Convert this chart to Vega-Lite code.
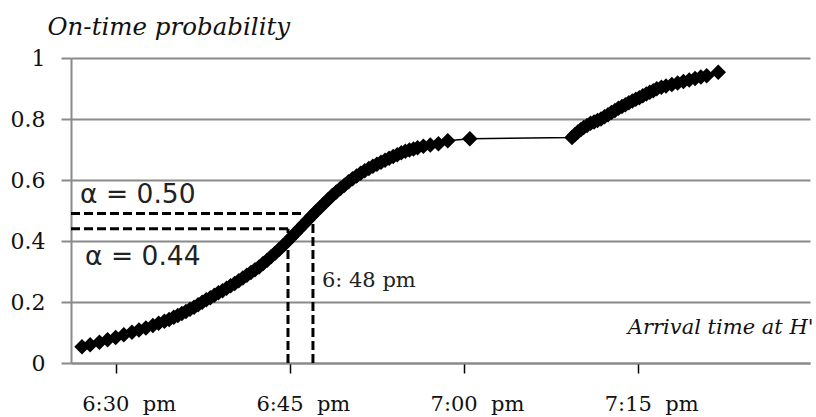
{
  "$schema": "https://vega.github.io/schema/vega-lite/v6.json",
  "width": 739,
  "height": 305,
  "autosize": {"type": "none"},
  "padding": {"left": 71, "top": 58, "right": 6, "bottom": 54},
  "background": "white",
  "config": {"view": {"stroke": null}},
  "datasets": {
    "curve": [
      {"minutes": 27.1, "prob": 0.053}, {"minutes": 27.8, "prob": 0.060}, {"minutes": 28.6, "prob": 0.068},
      {"minutes": 29.3, "prob": 0.076}, {"minutes": 30.0, "prob": 0.084}, {"minutes": 30.7, "prob": 0.093},
      {"minutes": 31.4, "prob": 0.101}, {"minutes": 32.0, "prob": 0.108}, {"minutes": 32.6, "prob": 0.115},
      {"minutes": 33.2, "prob": 0.123}, {"minutes": 33.7, "prob": 0.130}, {"minutes": 34.2, "prob": 0.137},
      {"minutes": 34.6, "prob": 0.143}, {"minutes": 35.0, "prob": 0.150}, {"minutes": 35.35, "prob": 0.156},
      {"minutes": 35.7, "prob": 0.162}, {"minutes": 36.05, "prob": 0.169}, {"minutes": 36.4, "prob": 0.176},
      {"minutes": 36.75, "prob": 0.183}, {"minutes": 37.1, "prob": 0.191}, {"minutes": 37.45, "prob": 0.199},
      {"minutes": 37.8, "prob": 0.207}, {"minutes": 38.15, "prob": 0.214}, {"minutes": 38.5, "prob": 0.222},
      {"minutes": 38.85, "prob": 0.230}, {"minutes": 39.2, "prob": 0.237}, {"minutes": 39.55, "prob": 0.245},
      {"minutes": 39.9, "prob": 0.253}, {"minutes": 40.25, "prob": 0.261}, {"minutes": 40.6, "prob": 0.270},
      {"minutes": 40.95, "prob": 0.279}, {"minutes": 41.3, "prob": 0.288}, {"minutes": 41.65, "prob": 0.297},
      {"minutes": 42.0, "prob": 0.306}, {"minutes": 42.35, "prob": 0.315}, {"minutes": 42.7, "prob": 0.326},
      {"minutes": 43.05, "prob": 0.337}, {"minutes": 43.4, "prob": 0.349}, {"minutes": 43.75, "prob": 0.361},
      {"minutes": 44.1, "prob": 0.373}, {"minutes": 44.45, "prob": 0.386}, {"minutes": 44.8, "prob": 0.399},
      {"minutes": 45.15, "prob": 0.413}, {"minutes": 45.5, "prob": 0.427}, {"minutes": 45.85, "prob": 0.441},
      {"minutes": 46.2, "prob": 0.455}, {"minutes": 46.55, "prob": 0.469}, {"minutes": 46.9, "prob": 0.483},
      {"minutes": 47.25, "prob": 0.497}, {"minutes": 47.6, "prob": 0.510}, {"minutes": 47.95, "prob": 0.523},
      {"minutes": 48.3, "prob": 0.536}, {"minutes": 48.65, "prob": 0.549}, {"minutes": 49.0, "prob": 0.561},
      {"minutes": 49.35, "prob": 0.572}, {"minutes": 49.7, "prob": 0.583}, {"minutes": 50.05, "prob": 0.594},
      {"minutes": 50.4, "prob": 0.604}, {"minutes": 50.75, "prob": 0.613}, {"minutes": 51.1, "prob": 0.622},
      {"minutes": 51.45, "prob": 0.630}, {"minutes": 51.8, "prob": 0.638}, {"minutes": 52.15, "prob": 0.645},
      {"minutes": 52.5, "prob": 0.652}, {"minutes": 52.85, "prob": 0.658}, {"minutes": 53.2, "prob": 0.665},
      {"minutes": 53.55, "prob": 0.671}, {"minutes": 53.9, "prob": 0.677}, {"minutes": 54.25, "prob": 0.683},
      {"minutes": 54.6, "prob": 0.689}, {"minutes": 54.95, "prob": 0.694}, {"minutes": 55.3, "prob": 0.698},
      {"minutes": 55.65, "prob": 0.702}, {"minutes": 56.0, "prob": 0.706}, {"minutes": 56.5, "prob": 0.711},
      {"minutes": 57.1, "prob": 0.715}, {"minutes": 57.8, "prob": 0.719}, {"minutes": 58.6, "prob": 0.729},
      {"minutes": 60.5, "prob": 0.735},
      {"minutes": 69.3, "prob": 0.739}, {"minutes": 69.55, "prob": 0.748}, {"minutes": 69.8, "prob": 0.757},
      {"minutes": 70.05, "prob": 0.765}, {"minutes": 70.3, "prob": 0.772}, {"minutes": 70.6, "prob": 0.779},
      {"minutes": 70.9, "prob": 0.786}, {"minutes": 71.2, "prob": 0.790}, {"minutes": 71.5, "prob": 0.795},
      {"minutes": 71.8, "prob": 0.800}, {"minutes": 72.1, "prob": 0.807}, {"minutes": 72.4, "prob": 0.814},
      {"minutes": 72.7, "prob": 0.821}, {"minutes": 73.0, "prob": 0.828}, {"minutes": 73.3, "prob": 0.835},
      {"minutes": 73.6, "prob": 0.841}, {"minutes": 73.9, "prob": 0.847}, {"minutes": 74.2, "prob": 0.853},
      {"minutes": 74.5, "prob": 0.859}, {"minutes": 74.8, "prob": 0.865}, {"minutes": 75.1, "prob": 0.870},
      {"minutes": 75.4, "prob": 0.876}, {"minutes": 75.7, "prob": 0.882}, {"minutes": 76.0, "prob": 0.888},
      {"minutes": 76.3, "prob": 0.893}, {"minutes": 76.6, "prob": 0.899}, {"minutes": 77.0, "prob": 0.904},
      {"minutes": 77.4, "prob": 0.908}, {"minutes": 77.9, "prob": 0.913}, {"minutes": 78.4, "prob": 0.918},
      {"minutes": 78.9, "prob": 0.923}, {"minutes": 79.4, "prob": 0.928}, {"minutes": 79.9, "prob": 0.933},
      {"minutes": 80.4, "prob": 0.938}, {"minutes": 80.9, "prob": 0.942}, {"minutes": 81.9, "prob": 0.953}
    ],
    "guides": [
      {"minutes": 26.15, "minutes_end": 46.13, "prob": 0.49, "prob_end": 0.49},
      {"minutes": 26.15, "minutes_end": 44.84, "prob": 0.44, "prob_end": 0.44},
      {"minutes": 44.84, "minutes_end": 44.84, "prob": 0.0, "prob_end": 0.44},
      {"minutes": 46.99, "minutes_end": 46.99, "prob": 0.0, "prob_end": 0.46}
    ],
    "alphas": [
      {"minutes": 26.93, "prob": 0.525, "label": "α = 0.50"},
      {"minutes": 27.36, "prob": 0.322, "label": "α = 0.44"}
    ],
    "times": [
      {"minutes": 47.76, "prob": 0.25, "label": "6: 48 pm"}
    ]
  },
  "encoding": {
    "x": {
      "field": "minutes",
      "type": "quantitative",
      "scale": {"domain": [26.15, 89.8], "nice": false, "zero": false},
      "axis": {
        "values": [30, 45, 60, 75],
        "labelExpr": "(datum.value < 60 ? '6:' + format(datum.value, '02d') : '7:' + format(datum.value - 60, '02d')) + ' \u00a0pm'",
        "title": "Arrival time at H'",
        "titleFont": "DejaVu Serif",
        "titleFontStyle": "italic",
        "titleFontWeight": "normal",
        "titleFontSize": 21,
        "titleColor": "#111",
        "titleX": 742,
        "titleY": -30,
        "titleAlign": "right",
        "titleBaseline": "alphabetic",
        "titleAngle": 0,
        "labelFont": "DejaVu Serif",
        "labelFontSize": 21,
        "labelColor": "#111",
        "labelBaseline": "alphabetic",
        "labelPadding": 37,
        "labelOffset": 13,
        "labelFlush": false,
        "labelOverlap": false,
        "tickSize": 10,
        "tickColor": "black",
        "tickWidth": 1.5,
        "domainColor": "#8a8a8a",
        "domainWidth": 2,
        "grid": false
      }
    },
    "y": {
      "field": "prob",
      "type": "quantitative",
      "scale": {"domain": [0, 1], "nice": false},
      "axis": {
        "values": [0, 0.2, 0.4, 0.6, 0.8, 1],
        "format": ".1~f",
        "title": "On-time probability",
        "titleAngle": 0,
        "titleX": -24,
        "titleY": -24,
        "titleAlign": "left",
        "titleBaseline": "alphabetic",
        "titleFont": "DejaVu Serif",
        "titleFontStyle": "italic",
        "titleFontWeight": "normal",
        "titleFontSize": 24.5,
        "titleColor": "#111",
        "labelFont": "DejaVu Serif",
        "labelFontSize": 22,
        "labelColor": "#111",
        "labelPadding": 16,
        "tickSize": 10,
        "tickColor": "#8a8a8a",
        "tickWidth": 2,
        "domainColor": "#8a8a8a",
        "domainWidth": 2,
        "grid": true,
        "gridColor": "#8a8a8a",
        "gridWidth": 2
      }
    }
  },
  "layer": [
    {
      "data": {"name": "curve"},
      "mark": {"type": "line", "color": "black", "strokeWidth": 1.5}
    },
    {
      "data": {"name": "curve"},
      "mark": {"type": "point", "shape": "diamond", "filled": true, "color": "black", "size": 240, "opacity": 1}
    },
    {
      "data": {"name": "guides"},
      "mark": {"type": "rule", "color": "black", "strokeWidth": 3, "strokeDash": [9, 4]},
      "encoding": {
        "x2": {"field": "minutes_end"},
        "y2": {"field": "prob_end"}
      }
    },
    {
      "data": {"name": "alphas"},
      "mark": {"type": "text", "align": "left", "baseline": "alphabetic", "font": "DejaVu Sans", "fontSize": 26.5, "color": "#222"},
      "encoding": {"text": {"field": "label"}}
    },
    {
      "data": {"name": "times"},
      "mark": {"type": "text", "align": "left", "baseline": "alphabetic", "font": "DejaVu Serif", "fontSize": 21, "color": "#222"},
      "encoding": {"text": {"field": "label"}}
    }
  ]
}
